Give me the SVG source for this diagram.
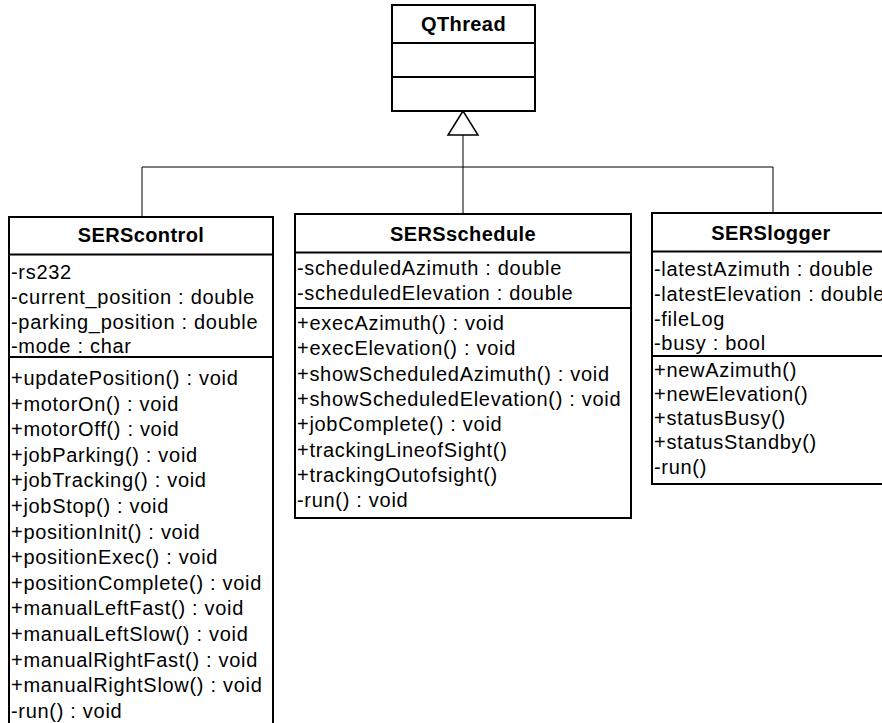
<svg xmlns="http://www.w3.org/2000/svg" width="882" height="723" viewBox="0 0 882 723">
<style>
.box{fill:#fff;stroke:#000;stroke-width:2}
.sep{stroke:#000;stroke-width:2}
.conn{stroke:#000;stroke-width:1;fill:none}
.t{font-family:"Liberation Sans",Arial,sans-serif;font-size:20px;letter-spacing:0.7px;fill:#000}
.h{font-family:"Liberation Sans",Arial,sans-serif;font-size:20px;font-weight:bold;letter-spacing:0.4px;fill:#000;text-anchor:middle}
</style>
<rect width="882" height="723" fill="#fff"/>
<g id="connectors">
<polyline class="conn" points="142,217 142,167 773,167 773,213"/>
<line class="conn" x1="463" y1="135" x2="463" y2="214"/>
<polygon points="463,111 448,135 478,135" fill="#fff" stroke="#000" stroke-width="1.5"/>
</g>
<g id="QThread">
<rect class="box" x="392" y="5" width="143" height="106"/>
<line class="sep" x1="392" y1="43" x2="535" y2="43"/>
<line class="sep" x1="392" y1="77" x2="535" y2="77"/>
<text class="h" x="463.5" y="31">QThread</text>
</g>
<g id="SERScontrol">
<rect class="box" x="9" y="217" width="264" height="520"/>
<line class="sep" x1="9" y1="254.5" x2="273" y2="254.5"/>
<line class="sep" x1="9" y1="357" x2="273" y2="357"/>
<text class="h" x="141" y="242">SERScontrol</text>
<text class="t" x="11" y="278.5">-rs232</text>
<text class="t" x="11" y="303.5">-current_position : double</text>
<text class="t" x="11" y="328.5">-parking_position : double</text>
<text class="t" x="11" y="353">-mode : char</text>
<text class="t" x="11" y="385">+updatePosition() : void</text>
<text class="t" x="11" y="410.6">+motorOn() : void</text>
<text class="t" x="11" y="436.2">+motorOff() : void</text>
<text class="t" x="11" y="461.8">+jobParking() : void</text>
<text class="t" x="11" y="487.4">+jobTracking() : void</text>
<text class="t" x="11" y="513">+jobStop() : void</text>
<text class="t" x="11" y="538.6">+positionInit() : void</text>
<text class="t" x="11" y="564.2">+positionExec() : void</text>
<text class="t" x="11" y="589.8">+positionComplete() : void</text>
<text class="t" x="11" y="615.4">+manualLeftFast() : void</text>
<text class="t" x="11" y="641">+manualLeftSlow() : void</text>
<text class="t" x="11" y="666.6">+manualRightFast() : void</text>
<text class="t" x="11" y="692.2">+manualRightSlow() : void</text>
<text class="t" x="11" y="717.8">-run() : void</text>
</g>
<g id="SERSschedule">
<rect class="box" x="295" y="214" width="336" height="304"/>
<line class="sep" x1="295" y1="252.5" x2="631" y2="252.5"/>
<line class="sep" x1="295" y1="308" x2="631" y2="308"/>
<text class="h" x="463" y="241">SERSschedule</text>
<text class="t" x="297" y="275">-scheduledAzimuth : double</text>
<text class="t" x="297" y="300">-scheduledElevation : double</text>
<text class="t" x="297" y="330">+execAzimuth() : void</text>
<text class="t" x="297" y="355.3">+execElevation() : void</text>
<text class="t" x="297" y="380.6">+showScheduledAzimuth() : void</text>
<text class="t" x="297" y="405.9">+showScheduledElevation() : void</text>
<text class="t" x="297" y="431.2">+jobComplete() : void</text>
<text class="t" x="297" y="456.5">+trackingLineofSight()</text>
<text class="t" x="297" y="481.8">+trackingOutofsight()</text>
<text class="t" x="297" y="507.1">-run() : void</text>
</g>
<g id="SERSlogger">
<rect class="box" x="652" y="213" width="260" height="271"/>
<line class="sep" x1="652" y1="251.5" x2="912" y2="251.5"/>
<line class="sep" x1="652" y1="356" x2="912" y2="356"/>
<text class="h" x="771" y="240">SERSlogger</text>
<text class="t" x="654" y="276">-latestAzimuth : double</text>
<text class="t" x="654" y="301">-latestElevation : double</text>
<text class="t" x="654" y="326">-fileLog</text>
<text class="t" x="654" y="350">-busy : bool</text>
<text class="t" x="654" y="376.5">+newAzimuth()</text>
<text class="t" x="654" y="400.8">+newElevation()</text>
<text class="t" x="654" y="425.1">+statusBusy()</text>
<text class="t" x="654" y="449.4">+statusStandby()</text>
<text class="t" x="654" y="473.7">-run()</text>
</g>
</svg>
